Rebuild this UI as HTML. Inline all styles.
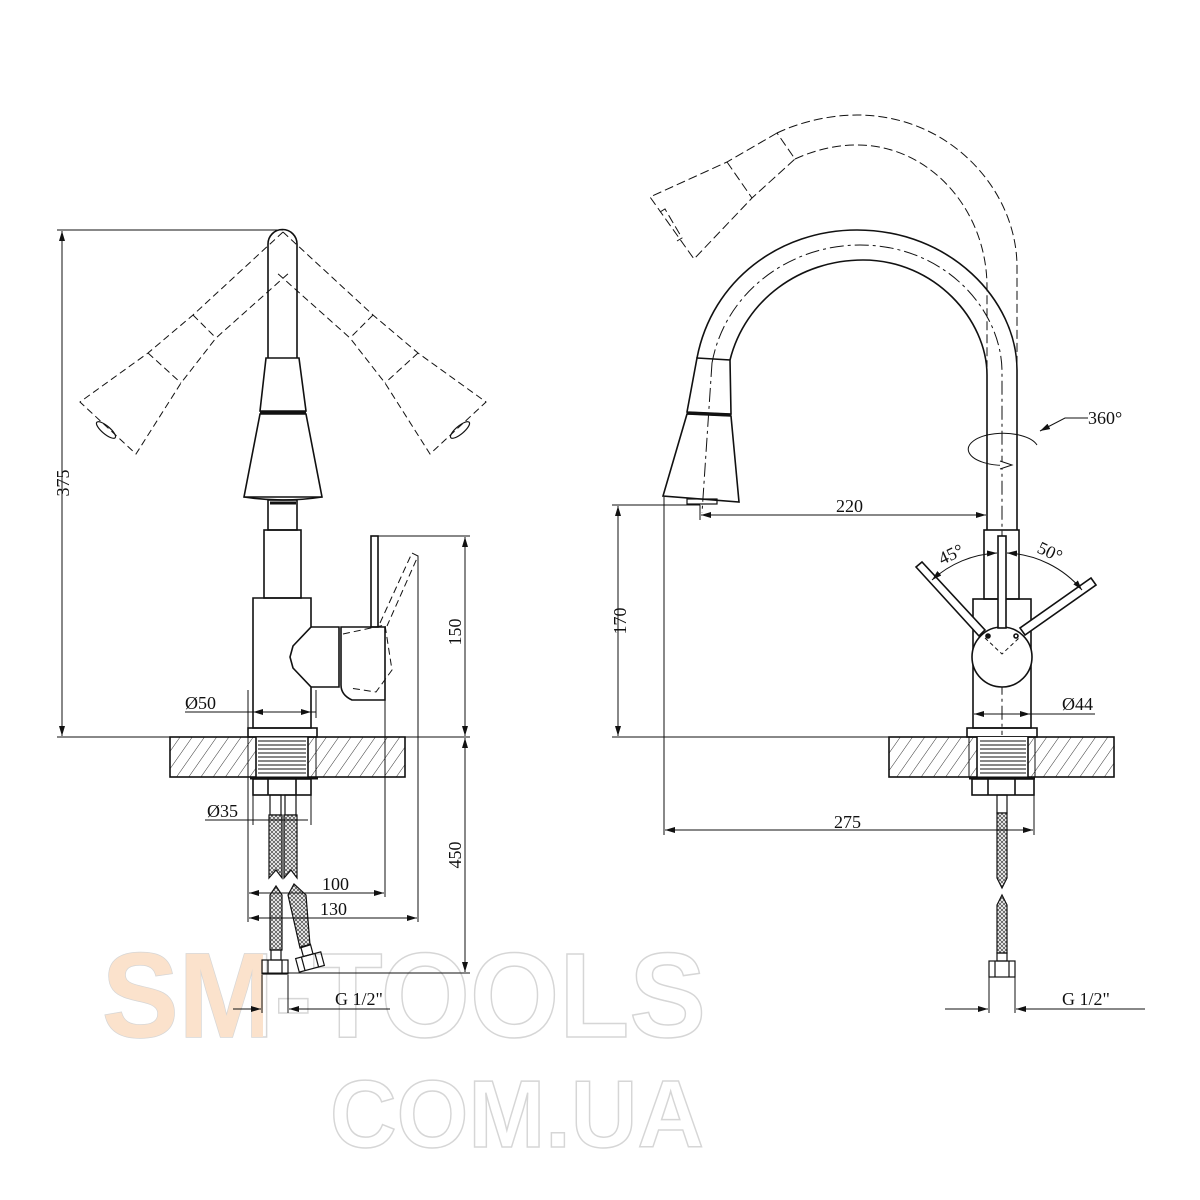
<!DOCTYPE html>
<html><head><meta charset="utf-8"><style>
html,body{margin:0;padding:0;background:#fff}
svg{display:block}
text{font-family:"Liberation Serif",serif;fill:#111}
text.wm{font-family:"Liberation Sans",sans-serif;font-weight:bold;fill:#fff;stroke:#d6d6d6;stroke-width:1.5}
text.wm2{font-family:"Liberation Sans",sans-serif;font-weight:bold;fill:#fbe2cc;stroke:none}
</style></head><body>
<svg width="1200" height="1200" viewBox="0 0 1200 1200" xmlns="http://www.w3.org/2000/svg">
<defs>
<pattern id="h" patternUnits="userSpaceOnUse" width="10" height="10" patternTransform="rotate(35)">
<line x1="0" y1="0" x2="0" y2="10" stroke="#333" stroke-width="1"/>
</pattern>
<pattern id="br" patternUnits="userSpaceOnUse" width="4" height="4">
<rect width="4" height="4" fill="#fff"/><path d="M0 0L4 4M4 0L0 4" stroke="#555" stroke-width="0.8"/>
</pattern>
<marker id="a" viewBox="0 0 10 6" refX="10" refY="3" markerWidth="10" markerHeight="6" orient="auto-start-reverse" markerUnits="userSpaceOnUse">
<path d="M0 0L10 3L0 6z" fill="#111"/></marker>
<clipPath id="smclip"><rect x="95" y="940" width="168" height="110"/></clipPath>
</defs>

<text class="wm" x="102" y="1037" font-size="121" textLength="604" lengthAdjust="spacingAndGlyphs">SM-TOOLS</text>
<text class="wm2" x="102" y="1037" font-size="121" textLength="604" lengthAdjust="spacingAndGlyphs" clip-path="url(#smclip)">SM-TOOLS</text>
<text class="wm" x="330" y="1147" font-size="96" textLength="374" lengthAdjust="spacingAndGlyphs">COM.UA</text>

<g fill="none" stroke="#111" stroke-width="1.6">
<path d="M268 358 L268 244 A14.5 14.5 0 0 1 297 244 L297 358"/>
<path d="M266 358 L299 358 L306 411 L260 411 Z"/>
<path d="M260 414 L306 414 L322 497 L244 497 Z"/>
<line x1="260" y1="412.5" x2="306" y2="412.5" stroke-width="3"/>
<path d="M244 497 Q283 503 322 497" />
<rect x="268" y="500" width="29" height="30"/>
<line x1="270" y1="503" x2="296" y2="503" stroke-width="3"/>
<rect x="264" y="530" width="37" height="68"/>
<path d="M253 598 L311 598 L311 627 L293 646 L290 657 L293 668 L311 687 L311 728 L253 728 Z"/>
<path d="M311 627 L339 627 L339 687 L311 687"/>
<path d="M341 627 L385 627 L385 700 L352 700 Q341 695 341 685 Z"/>
<rect x="371" y="536" width="7" height="91"/>
<rect x="248" y="728" width="69" height="9"/>
<g stroke-dasharray="7 4" stroke-width="1">
<path d="M343 634 L385 625 L392 670 L376 692 L350 688"/>
<path d="M380 623 L412 553 L418 556 L387 626"/>
</g>
<rect x="170" y="737" width="235" height="40" fill="url(#h)"/>
<rect x="256" y="737" width="52" height="40" fill="#fff" stroke="none"/>
<g stroke-width="1">
<line x1="258" y1="741" x2="306" y2="741"/><line x1="258" y1="745" x2="306" y2="745"/><line x1="258" y1="749" x2="306" y2="749"/><line x1="258" y1="753" x2="306" y2="753"/><line x1="258" y1="757" x2="306" y2="757"/><line x1="258" y1="761" x2="306" y2="761"/><line x1="258" y1="765" x2="306" y2="765"/><line x1="258" y1="769" x2="306" y2="769"/><line x1="258" y1="773" x2="306" y2="773"/>
</g>
<line x1="256" y1="737" x2="256" y2="777"/><line x1="308" y1="737" x2="308" y2="777"/>
<line x1="248" y1="737" x2="248" y2="777" stroke-width="1"/><line x1="316" y1="737" x2="316" y2="777" stroke-width="1"/>
<line x1="250" y1="778" x2="318" y2="778" stroke-width="3"/>
<rect x="253" y="779" width="58" height="16"/>
<line x1="268" y1="779" x2="268" y2="795"/><line x1="296" y1="779" x2="296" y2="795"/>
<g stroke-width="1.2">
<rect x="270" y="795" width="11" height="20"/><rect x="285" y="795" width="11" height="20"/>
<path d="M269 815 L282 815 L282 878 L276 870 L269 878 Z" fill="url(#br)"/>
<path d="M284 815 L297 815 L297 878 L291 870 L284 878 Z" fill="url(#br)"/>
<path d="M270 895 L276 886 L282 895 L282 950 L270 950 Z" fill="url(#br)"/>
<path d="M288 895 L294 884 L306 895 L310 945 L300 948 Z" fill="url(#br)"/>
<rect x="271" y="950" width="10" height="10"/>
<rect x="262" y="960" width="26" height="14"/>
<line x1="268" y1="960" x2="268" y2="974"/><line x1="282" y1="960" x2="282" y2="974"/>
<g transform="rotate(-15 310 962)"><rect x="297" y="955" width="26" height="14"/><rect x="305" y="945" width="10" height="10"/><line x1="303" y1="955" x2="303" y2="969"/><line x1="317" y1="955" x2="317" y2="969"/></g>
</g>
<g stroke-dasharray="7 4" stroke-width="1">
<path d="M283 232 L193 315 L148 353 L80 402 L136 454 L181 383 L216 338 L290 272"/>
<path d="M193 315 L216 338 M148 353 L181 383"/>
<path d="M283 232 L373 315 L418 353 L486 402 L430 454 L385 383 L350 338 L276 272"/>
<path d="M373 315 L350 338 M418 353 L385 383"/>
</g>
<ellipse cx="106" cy="430" rx="12" ry="4" transform="rotate(40 106 430)" stroke-width="1.2"/>
<ellipse cx="460" cy="430" rx="12" ry="4" transform="rotate(-40 460 430)" stroke-width="1.2"/>

<path d="M697 358 C712 280 780 230 857 230 C950 230 1017 300 1017 370 L1017 530"/>
<path d="M730 360 C745 300 800 260 863 260 C935 260 987 320 987 375 L987 530"/>
<path d="M712 363 C725 292 790 245 860 245 C945 245 1002 310 1002 372 L1002 735" stroke-width="1" stroke-dasharray="14 4 3 4"/>
<line x1="712" y1="363" x2="702" y2="513" stroke-width="1" stroke-dasharray="14 4 3 4"/>
<path d="M697 358 L730 360 L731 414 L687 412 Z"/>
<path d="M687 414 L731 416 L739 502 L663 496 Z"/>
<line x1="687" y1="413" x2="731" y2="415" stroke-width="3"/>
<rect x="687" y="499" width="30" height="5" stroke-width="1.2"/>
<g stroke-dasharray="9 4" stroke-width="1">
<path d="M777 133 C800 122 830 115 857 115 C950 115 1017 190 1017 267 L1017 367"/>
<path d="M795 159 C815 150 835 145 857 145 C930 145 987 210 987 287 L987 367"/>
<path d="M777 133 L727 162 L650 197 L694 259 L752 198 L795 159 Z"/>
<path d="M727 162 L752 198"/>
<path d="M660 212 L665 209 L682 238 L677 241"/>
</g>
<rect x="984" y="530" width="35" height="69"/>
<rect x="973" y="599" width="58" height="129"/>
<rect x="967" y="728" width="70" height="9"/>
<circle cx="1002" cy="657" r="30" fill="#fff"/>
<rect x="998" y="536" width="8" height="92" fill="#fff"/>
<path d="M916 567 L922 562 L985 630 L979 636 Z" fill="#fff"/>
<path d="M1096 585 L1091 578 L1020 628 L1025 635 Z" fill="#fff"/>
<circle cx="988" cy="636" r="2" fill="#111"/><circle cx="1016" cy="636" r="2"/>
<path d="M985 638 L1002 654 L1019 638" stroke-width="1" stroke-dasharray="4 3"/>
<rect x="889" y="737" width="225" height="40" fill="url(#h)"/>
<rect x="977" y="737" width="51" height="40" fill="#fff" stroke="none"/>
<g stroke-width="1">
<line x1="980" y1="741" x2="1026" y2="741"/><line x1="980" y1="745" x2="1026" y2="745"/><line x1="980" y1="749" x2="1026" y2="749"/><line x1="980" y1="753" x2="1026" y2="753"/><line x1="980" y1="757" x2="1026" y2="757"/><line x1="980" y1="761" x2="1026" y2="761"/><line x1="980" y1="765" x2="1026" y2="765"/><line x1="980" y1="769" x2="1026" y2="769"/><line x1="980" y1="773" x2="1026" y2="773"/>
</g>
<line x1="977" y1="737" x2="977" y2="777"/><line x1="1028" y1="737" x2="1028" y2="777"/>
<line x1="969" y1="737" x2="969" y2="777" stroke-width="1"/><line x1="1035" y1="737" x2="1035" y2="777" stroke-width="1"/>
<line x1="969" y1="778" x2="1035" y2="778" stroke-width="3"/>
<rect x="972" y="779" width="62" height="16"/>
<line x1="988" y1="779" x2="988" y2="795"/><line x1="1015" y1="779" x2="1015" y2="795"/>
<g stroke-width="1.2">
<rect x="997" y="795" width="10" height="18"/>
<path d="M997 813 L1007 813 L1007 878 L1002 888 L997 878 Z" fill="url(#br)"/>
<path d="M997 905 L1002 895 L1007 905 L1007 953 L997 953 Z" fill="url(#br)"/>
<rect x="997" y="953" width="10" height="8"/>
<rect x="989" y="961" width="26" height="16"/>
<line x1="995" y1="961" x2="995" y2="977"/><line x1="1009" y1="961" x2="1009" y2="977"/>
</g>
<path d="M1037 445 A35 16 0 1 0 1010 465" stroke-width="1"/>
</g>

<g fill="none" stroke="#111" stroke-width="1">
<line x1="57" y1="230" x2="283" y2="230"/>
<line x1="62" y1="231" x2="62" y2="736" marker-start="url(#a)" marker-end="url(#a)"/>
<line x1="57" y1="737" x2="470" y2="737"/>
<line x1="378" y1="536" x2="470" y2="536"/>
<line x1="465" y1="537" x2="465" y2="736" marker-start="url(#a)" marker-end="url(#a)"/>
<line x1="465" y1="738" x2="465" y2="972" marker-start="url(#a)" marker-end="url(#a)"/>
<line x1="262" y1="973" x2="470" y2="973"/>
<line x1="248" y1="690" x2="248" y2="922"/>
<line x1="316" y1="690" x2="316" y2="718"/>
<line x1="185" y1="712" x2="316" y2="712"/>
<line x1="253" y1="712" x2="311" y2="712" marker-start="url(#a)" marker-end="url(#a)"/>
<line x1="385" y1="687" x2="385" y2="897"/>
<line x1="418" y1="556" x2="418" y2="922"/>
<line x1="249" y1="893" x2="384" y2="893" marker-start="url(#a)" marker-end="url(#a)"/>
<line x1="249" y1="918" x2="417" y2="918" marker-start="url(#a)" marker-end="url(#a)"/>
<line x1="205" y1="820" x2="308" y2="820"/>
<line x1="253" y1="795" x2="253" y2="825"/><line x1="311" y1="795" x2="311" y2="825"/>
<line x1="262" y1="975" x2="262" y2="1013"/><line x1="288" y1="975" x2="288" y2="1013"/>
<line x1="233" y1="1009" x2="261" y2="1009" marker-end="url(#a)"/>
<line x1="390" y1="1009" x2="289" y2="1009" marker-end="url(#a)"/>
<line x1="612" y1="505" x2="700" y2="505"/>
<line x1="618" y1="506" x2="618" y2="736" marker-start="url(#a)" marker-end="url(#a)"/>
<line x1="612" y1="737" x2="970" y2="737"/>
<line x1="664" y1="497" x2="664" y2="835"/>
<line x1="700" y1="505" x2="700" y2="520"/>
<line x1="701" y1="515" x2="986" y2="515" marker-start="url(#a)" marker-end="url(#a)"/>
<line x1="665" y1="830" x2="1033" y2="830" marker-start="url(#a)" marker-end="url(#a)"/>
<line x1="1034" y1="780" x2="1034" y2="835"/>
<line x1="974" y1="714" x2="1095" y2="714"/>
<line x1="974" y1="714" x2="1030" y2="714" marker-start="url(#a)" marker-end="url(#a)"/>
<line x1="989" y1="975" x2="989" y2="1013"/><line x1="1015" y1="975" x2="1015" y2="1013"/>
<line x1="945" y1="1009" x2="988" y2="1009" marker-end="url(#a)"/>
<line x1="1145" y1="1009" x2="1016" y2="1009" marker-end="url(#a)"/>
<path d="M932 580 A104 104 0 0 1 997 553" marker-start="url(#a)" marker-end="url(#a)"/>
<path d="M1007 553 A104 104 0 0 1 1082 590" marker-start="url(#a)" marker-end="url(#a)"/>
<path d="M1088 418 L1065 418 L1040 431" marker-end="url(#a)"/>
<path d="M1000 461 L1012 465 L1000 469" fill="#fff"/>
</g>

<g font-size="18">
<text transform="translate(69,483) rotate(-90)" text-anchor="middle">375</text>
<text transform="translate(461,632) rotate(-90)" text-anchor="middle">150</text>
<text transform="translate(461,855) rotate(-90)" text-anchor="middle">450</text>
<text x="185" y="709">Ø50</text>
<text x="207" y="817">Ø35</text>
<text x="322" y="890">100</text>
<text x="320" y="915">130</text>
<text x="335" y="1005">G 1/2"</text>
<text transform="translate(626,621) rotate(-90)" text-anchor="middle">170</text>
<text x="836" y="512">220</text>
<text x="834" y="828">275</text>
<text x="1062" y="710">Ø44</text>
<text x="1062" y="1005">G 1/2"</text>
<text x="1088" y="424">360°</text>
<text transform="translate(942,565) rotate(-25)">45°</text>
<text transform="translate(1036,552) rotate(25)">50°</text>
</g>
</svg>
</body></html>
